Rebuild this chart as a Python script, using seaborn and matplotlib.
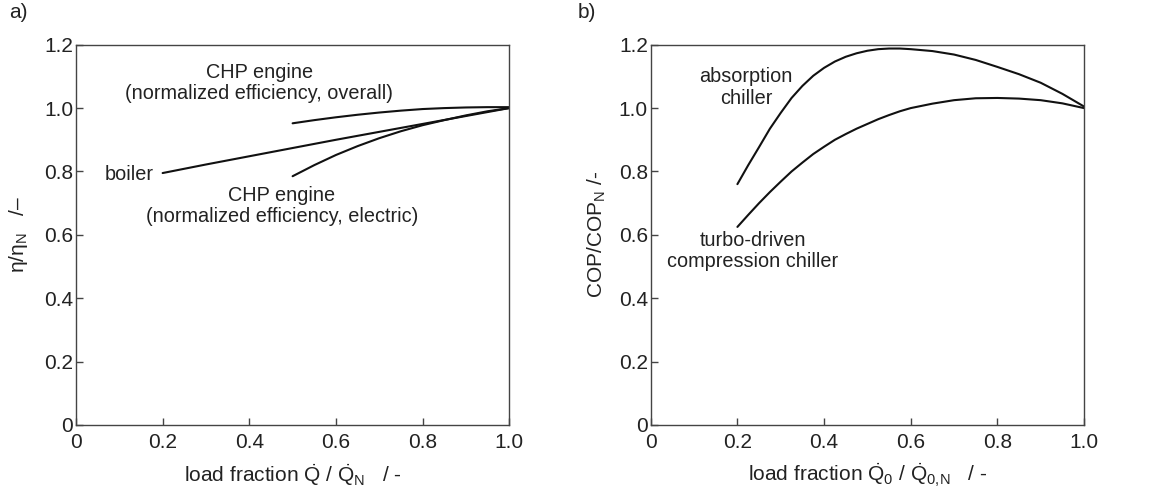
import matplotlib
matplotlib.use("Agg")
import matplotlib.pyplot as plt
import seaborn as sns
import pandas as pd

# ---- data ----
boiler_x = [0.2, 0.3, 0.4, 0.5, 0.6, 0.7, 0.8, 0.9, 1.0]
boiler_y = [0.795, 0.822, 0.848, 0.874, 0.90, 0.925, 0.95, 0.975, 1.0]

chp_overall_x = [0.5, 0.55, 0.6, 0.65, 0.7, 0.75, 0.8, 0.85, 0.9, 0.95, 1.0]
chp_overall_y = [0.952, 0.962, 0.971, 0.979, 0.986, 0.992, 0.997, 1.0, 1.002, 1.003, 1.003]

chp_electric_x = [0.5, 0.55, 0.6, 0.65, 0.7, 0.75, 0.8, 0.85, 0.9, 0.95, 1.0]
chp_electric_y = [0.785, 0.82, 0.852, 0.88, 0.905, 0.927, 0.946, 0.962, 0.977, 0.99, 1.0]

absorption_x = [0.2, 0.225, 0.25, 0.275, 0.3, 0.325, 0.35, 0.375, 0.4, 0.425, 0.45,
                0.475, 0.5, 0.525, 0.55, 0.575, 0.6, 0.65, 0.7, 0.75, 0.8, 0.85,
                0.9, 0.95, 1.0]
absorption_y = [0.76, 0.82, 0.877, 0.935, 0.985, 1.032, 1.07, 1.102, 1.127, 1.147, 1.162,
                1.173, 1.181, 1.186, 1.188, 1.188, 1.186, 1.18, 1.169, 1.152, 1.13, 1.107,
                1.08, 1.045, 1.005]

turbo_x = [0.2, 0.225, 0.25, 0.275, 0.3, 0.325, 0.35, 0.375, 0.4, 0.425, 0.45, 0.475,
           0.5, 0.525, 0.55, 0.575, 0.6, 0.65, 0.7, 0.75, 0.8, 0.85, 0.9, 0.95, 1.0]
turbo_y = [0.625, 0.663, 0.70, 0.735, 0.768, 0.80, 0.828, 0.855, 0.878, 0.90, 0.918, 0.935,
           0.95, 0.965, 0.978, 0.99, 1.0, 1.014, 1.025, 1.031, 1.032, 1.03, 1.025, 1.015, 1.0]

x_ticks = [0, 0.2, 0.4, 0.6, 0.8, 1.0]
x_ticklabels = ["0", "0.2", "0.4", "0.6", "0.8", "1.0"]
y_ticks = [0, 0.2, 0.4, 0.6, 0.8, 1.0, 1.2]
y_ticklabels = ["0", "0.2", "0.4", "0.6", "0.8", "1.0", "1.2"]

sns.set_style("ticks")
plt.rcParams["font.family"] = ["Liberation Sans", "DejaVu Sans"]
plt.rcParams["mathtext.fontset"] = "custom"
plt.rcParams["mathtext.rm"] = "Liberation Sans"
plt.rcParams["mathtext.it"] = "Liberation Sans"
plt.rcParams["mathtext.bf"] = "Liberation Sans:bold"

TXT = "#222222"
FS_TICK = 15
FS_LAB = 15
FS_ANN = 14.3

fig = plt.figure(figsize=(11.6, 4.97), dpi=100)
axL = fig.add_axes([0.0655, 0.145, 0.3735, 0.765])
axR = fig.add_axes([0.561, 0.145, 0.3735, 0.765])

def draw(ax, x, y):
    df = pd.DataFrame({"x": x, "y": y})
    sns.lineplot(data=df, x="x", y="y", ax=ax, color="#111111", lw=1.5)

draw(axL, boiler_x, boiler_y)
draw(axL, chp_overall_x, chp_overall_y)
draw(axL, chp_electric_x, chp_electric_y)
draw(axR, absorption_x, absorption_y)
draw(axR, turbo_x, turbo_y)

for ax in (axL, axR):
    ax.set_xlim(0, 1.0)
    ax.set_ylim(0, 1.2)
    ax.set_xticks(x_ticks)
    ax.set_xticklabels(x_ticklabels)
    ax.set_yticks(y_ticks)
    ax.set_yticklabels(y_ticklabels)
    ax.tick_params(direction="in", length=5, width=1, labelsize=FS_TICK,
                   colors="#444444", labelcolor=TXT)
    ax.tick_params(axis="x", pad=6)
    ax.tick_params(axis="y", pad=2)
    for s in ax.spines.values():
        s.set_visible(True)
        s.set_color("#444444")
        s.set_linewidth(1.0)

axL.set_xlabel(r"load fraction $\dot{\mathrm{Q}}$ / $\dot{\mathrm{Q}}_\mathrm{N}$   / -",
               fontsize=FS_LAB, color=TXT, labelpad=7)
axR.set_xlabel(r"load fraction $\dot{\mathrm{Q}}_0$ / $\dot{\mathrm{Q}}_{0,\!\mathrm{N}}$   / -",
               fontsize=FS_LAB, color=TXT, labelpad=7)
axL.set_ylabel(r"$\eta/\eta_\mathrm{N}$   /–", fontsize=FS_LAB, color=TXT, labelpad=10)
axR.set_ylabel(r"COP/COP$_\mathrm{N}$ /-", fontsize=FS_LAB, color=TXT, labelpad=8)

axL.text(0.423, 1.08, "CHP engine\n(normalized efficiency, overall)", ha="center",
         va="center", fontsize=FS_ANN, color=TXT, linespacing=1.15)
axL.text(0.122, 0.79, "boiler", ha="center", va="center", fontsize=FS_ANN, color=TXT)
axL.text(0.475, 0.692, "CHP engine\n(normalized efficiency, electric)", ha="center",
         va="center", fontsize=FS_ANN, color=TXT, linespacing=1.15)
axR.text(0.22, 1.066, "absorption\nchiller", ha="center", va="center",
         fontsize=FS_ANN, color=TXT, linespacing=1.2)
axR.text(0.235, 0.55, "turbo-driven\ncompression chiller", ha="center", va="center",
         fontsize=FS_ANN, color=TXT, linespacing=1.15)

fig.text(0.008, 0.975, "a)", fontsize=FS_LAB, color=TXT, va="center", ha="left")
fig.text(0.498, 0.975, "b)", fontsize=FS_LAB, color=TXT, va="center", ha="left")

fig.savefig("out.png", dpi=100)
